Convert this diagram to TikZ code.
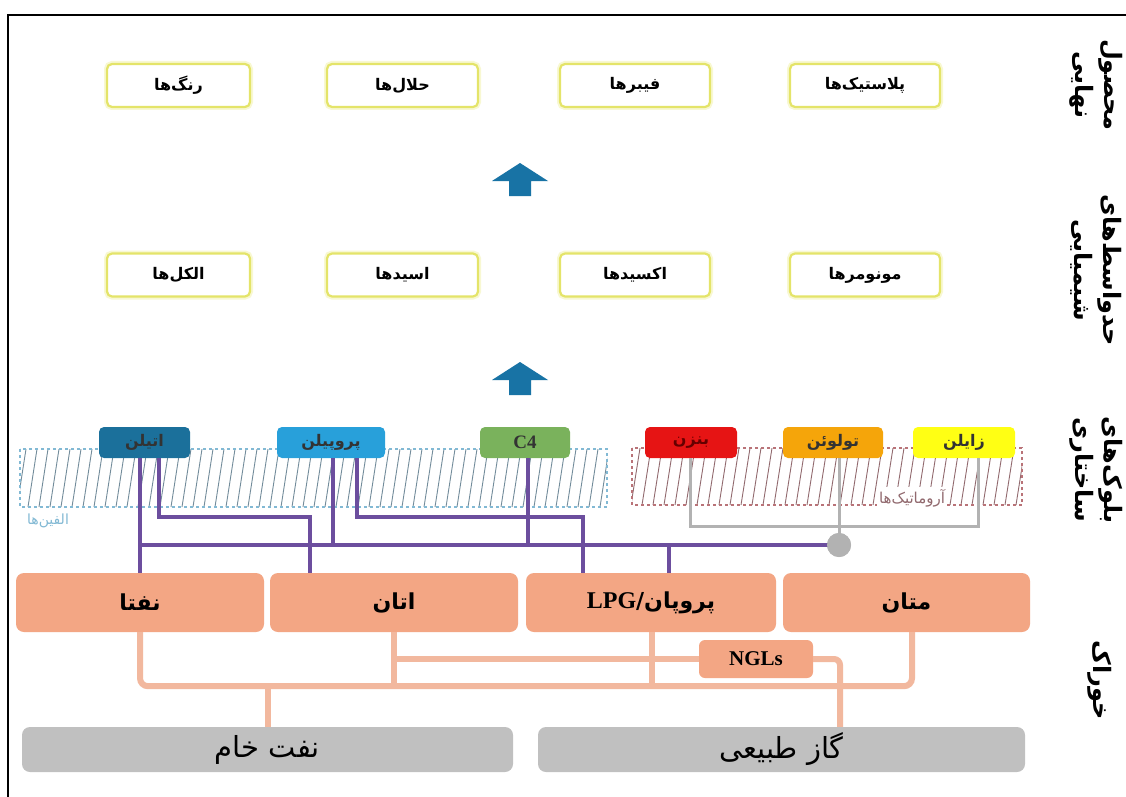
\documentclass[tikz,border=0pt]{standalone}
\usepackage{fontspec}
\setmainfont{Liberation Serif}
\newfontfamily\fafont[Script=Arabic]{DejaVu Sans}
\TeXXeTstate=1
\newcommand\fa[1]{{\fafont\beginR #1\endR}}
\usetikzlibrary{calc}
\definecolor{ybord}{RGB}{228,228,105}
\definecolor{yglow}{RGB}{248,248,210}
\definecolor{ethc}{RGB}{27,112,155}
\definecolor{propc}{RGB}{40,160,218}
\definecolor{c4c}{RGB}{122,178,92}
\definecolor{benc}{RGB}{230,20,20}
\definecolor{tolc}{RGB}{245,165,10}
\definecolor{xylc}{RGB}{255,255,20}
\definecolor{feedc}{RGB}{243,166,132}
\definecolor{olc}{RGB}{242,184,158}
\definecolor{srcc}{RGB}{192,192,192}
\definecolor{plc}{RGB}{108,78,158}
\definecolor{grl}{RGB}{178,178,178}
\definecolor{arrc}{RGB}{24,115,165}
\definecolor{olhc}{RGB}{115,140,155}
\definecolor{olbc}{RGB}{130,185,212}
\definecolor{arhc}{RGB}{145,105,110}
\definecolor{arbc}{RGB}{185,115,120}
\begin{document}
\begin{tikzpicture}[x=1pt,y=-1pt,
  ybox/.style={draw=ybord, line width=2.2pt, fill=white, rounded corners=5pt,
    minimum height=43pt, inner sep=0pt, preaction={draw=yglow, line width=6pt},
    font=\bfseries\fontsize{16}{18}\selectfont},
  bb/.style={rounded corners=5pt, minimum height=31pt, inner sep=0pt, text=black!80,
    font=\bfseries\fontsize{16}{18}\selectfont},
  feed/.style={fill=feedc, rounded corners=8pt, minimum height=59pt, inner sep=0pt,
    font=\bfseries\fontsize{22}{24}\selectfont},
  src/.style={fill=srcc, rounded corners=8pt, minimum height=45pt, inner sep=0pt,
    font=\fontsize{29}{30}\selectfont},
  side/.style={rotate=-90, align=center, font=\bfseries\fontsize{24}{29}\selectfont},
  pl/.style={draw=plc, line width=3.5pt},
  gl/.style={draw=grl, line width=3pt},
  ol/.style={draw=olc, line width=6pt},
  olh/.style={draw=olhc, line width=0.9pt},
  arh/.style={draw=arhc, line width=0.9pt},
  uparrow/.style={fill=arrc}
]
\useasboundingbox (0,0) rectangle (1126,797);
\fill[white] (0,0) rectangle (1126,797);
% frame
\draw[line width=2.5pt] (1126,15) -- (8,15) -- (8,797);

% product row
\node[ybox, minimum width=143pt] (rang) at (178.5,85.5) {\fa{رنگ‌ها}};
\node[ybox, minimum width=151pt] (halal) at (402.5,85.5) {\fa{حلال‌ها}};
\node[ybox, minimum width=150pt] (fiber) at (635,85.5) {\fa{فیبرها}};
\node[ybox, minimum width=150pt] (plast) at (865,85.5) {\fa{پلاستیک‌ها}};

% intermediates row
\node[ybox, minimum width=143pt] (alc) at (178.5,275) {\fa{الکل‌ها}};
\node[ybox, minimum width=151pt] (acid) at (402.5,275) {\fa{اسیدها}};
\node[ybox, minimum width=150pt] (oxid) at (635,275) {\fa{اکسیدها}};
\node[ybox, minimum width=150pt] (mono) at (865,275) {\fa{مونومرها}};

% block arrows
\fill[uparrow] (520,163) -- (548,181) -- (531,181) -- (531,196) -- (509,196) -- (509,181) -- (492,181) -- cycle;
\fill[uparrow] (520,362) -- (548,380) -- (531,380) -- (531,395) -- (509,395) -- (509,380) -- (492,380) -- cycle;

% olefin hatched region
\begin{scope}
\clip (20,449) rectangle (607,507);
\foreach \x in {6,17,...,618} \draw[olh] (\x,507) -- (\x+9,449);
\end{scope}
\draw[draw=olbc, line width=1.2pt, dashed] (20,449) rectangle (607,507);
\node[text=olbc, font=\fontsize{14}{16}\selectfont, fill=white, inner sep=1pt] (olef) at (48,521) {\fa{الفین‌ها}};

% aromatic hatched region
\begin{scope}
\clip (632,448) rectangle (1022,505);
\foreach \x in {620,631,...,1030} \draw[arh] (\x,505) -- (\x+9,448);
\end{scope}
\draw[draw=arbc, line width=1.2pt, dashed] (632,448) rectangle (1022,505);
\node[text=arhc, font=\fontsize{15}{17}\selectfont, fill=white, inner sep=2pt] (arom) at (912,498) {\fa{آروماتیک‌ها}};

% building blocks
\node[bb, fill=ethc, minimum width=91pt] (eth) at (144.5,442.5) {\fa{اتیلن}};
\node[bb, fill=propc, minimum width=108pt] (prop) at (331,442.5) {\fa{پروپیلن}};
\node[bb, fill=c4c, minimum width=90pt, font=\bfseries\fontsize{19}{20}\selectfont] (c4) at (525,442.5) {C4};
\node[bb, fill=benc, minimum width=92pt, text=black!60!red] (ben) at (691,442.5) {\fa{بنزن}};
\node[bb, fill=tolc, minimum width=100pt] (tol) at (833,442.5) {\fa{تولوئن}};
\node[bb, fill=xylc, minimum width=102pt] (xyl) at (964,442.5) {\fa{زایلن}};

% feeds
\node[feed, minimum width=248pt] (naph) at (140,602.5) {\fa{نفتا}};
\node[feed, minimum width=248pt] (ethane) at (394,602.5) {\fa{اتان}};
\node[feed, minimum width=250pt] (lpg) at (651,602.5) {\fa{پروپان/\beginL{\rmfamily\bfseries\fontsize{24}{26}\selectfont LPG}\endL}};
\node[feed, minimum width=247pt] (meth) at (906.5,602.5) {\fa{متان}};
\node[feed, rounded corners=6pt, minimum width=114pt, minimum height=38pt, font=\bfseries\fontsize{21}{22}\selectfont] (ngls) at (756,659) {NGLs};

% sources
\node[src, minimum width=491pt] (crude) at (267.5,749.5) {\fa{نفت خام}};
\node[src, minimum width=487pt] (gas) at (781.5,749.5) {\fa{گاز طبیعی}};

% hub
\node[circle, fill=grl, minimum size=24pt, inner sep=0pt] (hub) at (839,545) {};

% purple connectors
\draw[pl] ([xshift=-4.5pt]eth.south) -- (naph.north);
\draw[pl] ([xshift=14.5pt]eth.south) -- ++(0,59) -| ([xshift=-84pt]ethane.north);
\draw[pl] (naph.north |- hub) -- (hub.center);
\draw[pl] ([xshift=2pt]prop.south) -- ++(0,87);
\draw[pl] ([xshift=26pt]prop.south) -- ++(0,59) -| ([xshift=-68pt]lpg.north);
\draw[pl] ([xshift=3pt]c4.south) -- ++(0,87);
\draw[pl] ([xshift=18pt]lpg.north) -- ++(0,-27);

% grey connectors
\draw[gl] ([xshift=-1pt]ben.south) -- ++(0,68) -| ([xshift=14pt]xyl.south);
\draw[gl] ([xshift=6pt]tol.south) -- (hub.center);
\node[circle, fill=grl, minimum size=24pt, inner sep=0pt] at (hub) {};

% orange connectors
\draw[ol, rounded corners=8pt] (naph.south) -- ++(0,54) -| ([xshift=5.5pt]meth.south);
\draw[ol] (ethane.south) -- ++(0,54);
\draw[ol] (ethane.south |- ngls.west) -- (ngls.west);
\draw[ol] ([xshift=1pt]lpg.south) -- ++(0,54);
\draw[ol, rounded corners=6pt] (ngls.east) -| ([xshift=58.5pt]gas.north);
\draw[ol] (crude.north) -- ++(0,-41);

% side labels
\node[side] (lprod) at (1096,85) {\fa{محصول}\\\fa{نهایی}};
\node[side] (linter) at (1096,270) {\fa{حدواسط‌های}\\\fa{شیمیایی}};
\node[side] (lblock) at (1096,470) {\fa{بلوک‌های}\\\fa{ساختاری}};
\node[side] (lfeed) at (1100,680) {\fa{خوراک}};
\end{tikzpicture}
\end{document}
